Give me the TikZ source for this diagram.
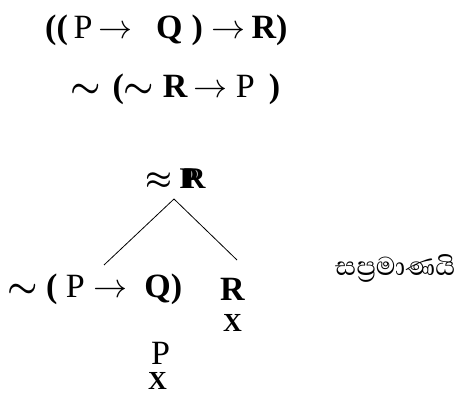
\RequirePackage{fix-cm}
\documentclass[tikz,border=0pt]{standalone}
\usepackage{fontspec}
\setmainfont{Liberation Serif}
\newfontfamily\sinhalafont[Script=Sinhala]{Abhaya Libre}
\newcommand{\nt}{{\boldmath$\sim$}}
\newcommand{\ap}{{\boldmath$\approx$}}
\newcommand{\imp}{$\rightarrow$}

\begin{document}
\begin{tikzpicture}[x=1pt, y=-1pt,
	formula/.style={anchor=base west, inner sep=0pt},
	big/.style={font=\fontsize{34}{40}\selectfont},
	closed/.style={font=\fontsize{26}{30}\selectfont\bfseries},
	branch/.style={line width=0.8pt}]
	\useasboundingbox (0,0) rectangle (459,396);
	% Premises:
	\node[formula, big] (premise) at (45,39) {\textbf{((}\,P\,\imp\hspace{24pt}\textbf{Q\hspace{9pt})}\hspace{9pt}\imp\,\textbf{R)}};
	\node[formula, big] (negation) at (70,98) {\nt\hspace{12pt}\textbf{(}\nt\ \textbf{R}\,\imp\ P\hspace{14pt}\textbf{)}};
	% Tree:
	\node[formula, font=\fontsize{30}{34}\selectfont] (root) at (145,189) {\ap\ \textbf{P\hspace{-14pt}R}};
	\coordinate (apex) at (174,199);
	\coordinate (leftend) at (104,265);
	\coordinate (rightend) at (237,260);
	\draw[branch] (apex) -- (leftend);
	\draw[branch] (apex) -- (rightend);
	\node[formula, big] (leftbranch) at (7,298) {\nt\ \textbf{(}\ P\ \imp\ \ \textbf{Q)}};
	\node[formula, big] (rightbranch) at (220,301) {\textbf{R}};
	\node[formula, closed] (rightclosed) at (223,332) {X};
	\node[formula, big] (leftatom) at (151,364) {P};
	\node[formula, closed] (leftclosed) at (148,389) {X};
	\node[formula, font=\fontsize{33}{36}\sinhalafont] (verdict) at (335,276) {සප්‍රමාණයි};
\end{tikzpicture}
\end{document}
